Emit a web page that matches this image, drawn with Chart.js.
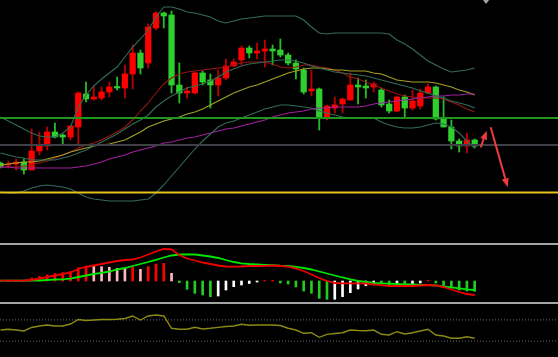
<!DOCTYPE html>
<html><head><meta charset="utf-8">
<script src="https://cdn.jsdelivr.net/npm/chart.js@4.4.1/dist/chart.umd.min.js"></script>
<style>html,body{margin:0;padding:0;background:#000;overflow:hidden}canvas{display:block}</style>
</head><body>
<canvas id="c" width="558" height="357"></canvas>
<script>
// ---------- DATA (arbitrary price units) ----------
const open  = [87,85,86,88,80,99,104,118,115,113,123,156,151,152,158,163.5,162,176,197,187,222,237,235,165,157,157,177,170,165,172,184,190,202,197,199,201,200,195,187,180,159,161,132,142,146,150,165,164,163,160,146,139,153,142,144,157,163,131,123,109,104,110];
const high  = [88,89,91,91,121,118,123,127,116,124,158,168,163,163,168,173,185,205,200,226,238,238,239,187,163,178,179,176,180,191,191,204,204,207,210,205,211,197,190,182,180,162,145,153,152,177,172,170,168,162,150,154,155,160,161,166,164,153,130,111,117,111];
const low   = [82,82,80,76,80,95,100,112,105,110,105,148,150,150,153,160,152,161,176,182,220,222,157,147,152,156,165,142,154,170,183,185,192,191,183,185,193,185,171,156,154,120,130,137,137,150,146,152,158,143,137,138,132,140,141,157,130,123,101,98,97,102];
const close = [83,86,88,80,99,104,118,113,113,124,157,151,153,158,163,162,176,197,182,223,237,234,165,157,159,177,168,165,172,184,188,202,197,199,201,199,195,187,181,158,161,133,144,145,151,165,163,162,166,145,139,153,142,149,157,163,131,123,109,104,110,104];

const bbUpper  = [133,129,125,121,117,114,113,113,117,123,143,155,164,171,177,183,193,203,211,220,233,243,243,241,238,237,235,233,229,227,229,231,232,233,234,234,234,234,234,230,223,217,216,217,217,217,217,217,217,217,216,210,206,201,195,189,185,181,178,179,180,182];
const bbMiddle = [97,95,93,92,90,90,90,90,92,94,97,100,104,108,112,116,121,126,130,135,143,149,154,158,162,164,166,169,173,178,181,184,186,187,188,189,190,190,189,187,184,182,180,178,177,176,175,174,172,170,168,166,164,162,159,157,154,152,149,147,145,142];
const bbLower  = [58,57,57,59,62,64,65,64,63,61,57,53,51,50,49,49,49,49,50,51,57,65,74,83,92,101,109,116,123,127,129,132,135,138,141,143,145,145,144,143,142,139,137,135,133,132,132,132,132,128,125,123,122,122,123,125,127,126,123,117,109,102];
const maFast   = [83,83,83,84,85,87,89,92,95,98,102,105,107,110,114,118,123,130,139,147,157,166,172,176,178,179,180,181,182,183,185,187,188,188,188,186,183,182,183,185,185,183,182,180,177,173,171,168,165,162,159,156,154,153,152,152,152,151,148,145,141,138];
const maMid    = [85,86,87,88,88,89,91,93,95,98,100,102,104,105,106,108,110,114,118,123,126,129,131,133,136,138,141,145,149,153,157,160,163,165,168,171,174,177,179,181,182,182,181,180,180,179,179,179,177,176,173,170,169,168,168,168,167,165,163,160,158,155];
const maSlow   = [83,83,82,82,82,82,82,82,82,82,83,84,86,88,91,93,95,98,100,102,104,107,108,110,112,113,115,117,119,121,122,124,126,128,130,133,135,137,138,139,141,142,142,143,143,143,143,144,146,147,148,149,150,151,152,153,154,154,155,155,156,156];
const priceLevels = [132, 105, 57.5];

const macdMain   = [0.3,0.3,0.3,0.5,1,2.5,4,5.5,7,8.5,12,14,15.5,17,18.5,20,21,21.5,23.5,26.5,29.5,32,31.5,26,22.5,20.5,18.5,17,15.5,14.5,14.3,14.5,15,15,15,15.5,15,14.3,12.5,10,6.5,3,0,-2,-2.3,-2.3,-2.3,-2.5,-3.5,-4.2,-5,-5,-5,-5,-4.5,-4,-4.5,-6,-8.5,-11,-13,-14];
const macdSignal = [0.3,0.3,0.3,0.3,0.3,0.5,1,1.5,1.7,2.3,4,5.5,7,8.2,9.5,11.5,13,15,17,19,21.2,23.5,25.5,26.5,26.7,26.5,25.5,24.5,23,21,19,17.7,17,16.7,16.2,15.8,15.3,15,14.2,13,11.5,9.5,7.5,5.5,3.5,1.7,0,-1,-2,-2.3,-2.7,-3,-3.3,-3.5,-3.8,-4,-4.5,-5.5,-6.3,-7.3,-8.3,-9];
const macdHist   = [0,0,0,0.5,3,4.5,6,7.5,8.3,9.3,13.3,15,15,14.3,13.7,12.7,12.7,13.7,11.7,14.3,17,17.7,7.7,-1.7,-8.3,-12.3,-14,-15.7,-15,-9,-5.7,-4,-2.5,-1,0.5,0.6,-2,-3,-6,-10,-12.3,-17.3,-18.3,-18.3,-15.7,-11.7,-8,-4.7,-2,-2.5,-4,-3.5,-4,-3.5,-2,0.5,-2,-4.5,-7,-9,-10,-10.3];

const rsi = [50.9,52.3,50.9,49.1,55.7,58.5,60.4,58.5,58.5,62.3,70.8,68.9,69.8,70.8,70.8,71.1,72.6,77.4,69.8,77.4,79.2,77.4,54.2,52.3,52.3,56.0,52.8,54.2,56.0,57.5,58.5,61.7,59.8,60.4,60.4,60.4,59.4,54.2,50.9,44.7,45.8,37.2,42.8,44.3,45.8,50.9,50.0,49.6,50.9,42.8,41.5,47.7,43.4,45.8,49.1,52.3,41.5,39.6,35.3,35.3,38.3,35.3];
const rsiLevels = [70, 30];

// annotations (bar index, price)
const arrowStarts = [[61.77, 102.7], [63.06, 122.7]];
const arrowEnds   = [[62.55, 119.3], [65.25, 62.7]];
const shiftMarkerIndex = 62.46;

// ---------- LAYOUT / STYLE ----------
const W = 558, H = 357;
const barSpacing = 7.773, firstBarPx = 0.53;
const xMin = -firstBarPx / barSpacing, xMax = xMin + W / barSpacing;
const panels = {
  main: {top: 0,   bottom: 243, vTop: 250, vBottom: 7},
  macd: {top: 245, bottom: 302, vTop: 36,  vBottom: -21},
  rsi:  {top: 304, bottom: 357, vTop: 100, vBottom: 0}
};
function axisRange(p) {
  const k = (p.vTop - p.vBottom) / (p.bottom - p.top);
  return {min: p.vBottom - k * (H - p.bottom), max: p.vTop + k * p.top};
}
const BULL = '#ff0000', BEAR = '#30cf30';
const levelColors = ['#1f961f', '#3e3f47', '#e6c21c'];

const pts = arr => arr.map((v, i) => ({x: i, y: v}));
const isBull = close.map((c, i) => c >= open[i]);

function lineDs(data, color, axis, width, order, extra) {
  return Object.assign({type: 'line', data: pts(data), borderColor: color, borderWidth: width,
    pointRadius: 0, tension: 0, fill: false, xAxisID: 'x', yAxisID: axis, order}, extra || {});
}

const histColors = macdHist.map((h, i) => {
  const prev = i > 0 ? macdHist[i - 1] : 0;
  if (h >= 0) return h > prev ? '#ff0000' : '#ffb6c1';
  return h < prev ? '#22cc22' : '#ffffff';
});

const datasets = [
  // candles
  {type: 'bar', data: low.map((l, i) => ({x: i, y: [l, high[i]]})), xAxisID: 'x', yAxisID: 'yMain',
   backgroundColor: isBull.map(b => b ? '#b80000' : '#26b826'), barThickness: 1.2, grouped: false, order: 30},
  {type: 'bar', data: open.map((o, i) => ({x: i, y: [Math.min(o, close[i]), Math.max(o, close[i])]})), xAxisID: 'x', yAxisID: 'yMain',
   backgroundColor: isBull.map(b => b ? BULL : BEAR), barThickness: 5.6, minBarLength: 1, grouped: false, order: 29},
  // bands and averages
  lineDs(bbUpper, '#336b58', 'yMain', 1.1, 5),
  lineDs(bbMiddle, '#336b58', 'yMain', 1.1, 5),
  lineDs(bbLower, '#336b58', 'yMain', 1.1, 5),
  lineDs(maSlow, '#a020a0', 'yMain', 1.1, 5),
  lineDs(maMid, '#a4a224', 'yMain', 1.1, 5),
  lineDs(maFast, '#981414', 'yMain', 1.1, 5),
  // MACD
  {type: 'bar', data: pts(macdHist), xAxisID: 'x', yAxisID: 'yMacd', backgroundColor: histColors,
   barThickness: 2, grouped: false, order: 20},
  lineDs(macdSignal, '#00e600', 'yMacd', 1.8, 4),
  lineDs(macdMain, '#ee0000', 'yMacd', 1.8, 3),
  // RSI
  lineDs(rsi, '#8c8a14', 'yRsi', 1.4, 4)
];
priceLevels.forEach((lv, k) => datasets.push({type: 'line', data: [{x: xMin, y: lv}, {x: xMax, y: lv}],
  borderColor: levelColors[k], borderWidth: 2, pointRadius: 0, xAxisID: 'x', yAxisID: 'yMain', order: 2}));
rsiLevels.forEach(lv => datasets.push({type: 'line', data: [{x: xMin, y: lv}, {x: xMax, y: lv}],
  borderColor: '#6c6c6c', borderWidth: 1, borderDash: [1, 2], pointRadius: 0, xAxisID: 'x', yAxisID: 'yRsi', order: 6}));

const decor = {
  id: 'decor',
  beforeDraw(chart) {
    const c = chart.ctx; c.save(); c.fillStyle = '#000'; c.fillRect(0, 0, chart.width, chart.height); c.restore();
  },
  afterDatasetsDraw(chart) {
    const {ctx, scales: {x, yMain}} = chart;
    ctx.save();
    ctx.fillStyle = '#a4a4a4';
    [[panels.main.bottom, panels.macd.top], [panels.macd.bottom, panels.rsi.top]].forEach(([a, b]) => ctx.fillRect(0, a, chart.width, b - a));
    ctx.strokeStyle = ctx.fillStyle = '#ec3c3c';
    ctx.lineWidth = 2;
    arrowStarts.forEach((s, k) => {
      const e = arrowEnds[k];
      const x1 = x.getPixelForValue(s[0]), y1 = yMain.getPixelForValue(s[1]);
      const x2 = x.getPixelForValue(e[0]), y2 = yMain.getPixelForValue(e[1]);
      const ang = Math.atan2(y2 - y1, x2 - x1), hl = 9, hw = 3.5;
      const bx = x2 - hl * Math.cos(ang), by = y2 - hl * Math.sin(ang);
      ctx.beginPath(); ctx.moveTo(x1, y1); ctx.lineTo(bx, by); ctx.stroke();
      ctx.beginPath(); ctx.moveTo(x2, y2);
      ctx.lineTo(bx + hw * Math.sin(ang), by - hw * Math.cos(ang));
      ctx.lineTo(bx - hw * Math.sin(ang), by + hw * Math.cos(ang));
      ctx.closePath(); ctx.fill();
    });
    const mx = x.getPixelForValue(shiftMarkerIndex);
    ctx.fillStyle = '#9ea4ae';
    ctx.beginPath(); ctx.moveTo(mx - 3, 0); ctx.lineTo(mx + 3, 0); ctx.lineTo(mx, 4); ctx.closePath(); ctx.fill();
    ctx.restore();
  }
};

const hidden = r => Object.assign({type: 'linear', display: false, bounds: 'data'}, r);
new Chart(document.getElementById('c'), {
  type: 'bar',
  data: {datasets},
  options: {
    responsive: false, animation: false, devicePixelRatio: 1, events: [],
    layout: {padding: 0},
    plugins: {legend: {display: false}, tooltip: {enabled: false}},
    scales: {
      x: {type: 'linear', display: false, min: xMin, max: xMax, offset: false, bounds: 'data'},
      yMain: hidden(axisRange(panels.main)),
      yMacd: hidden(axisRange(panels.macd)),
      yRsi: hidden(axisRange(panels.rsi))
    }
  },
  plugins: [decor]
});
</script>
</body></html>
